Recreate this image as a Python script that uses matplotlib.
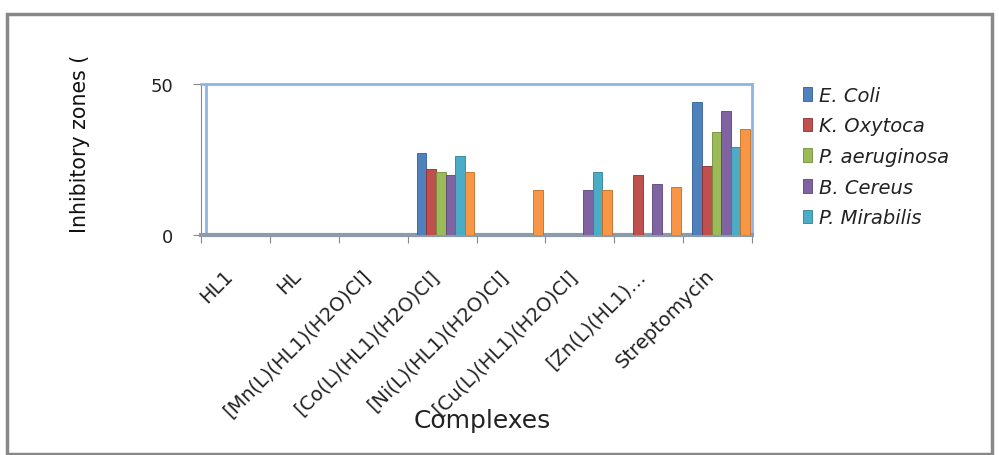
import matplotlib
matplotlib.use("Agg")
import matplotlib.pyplot as plt
import numpy as np
from matplotlib.patches import Rectangle
from matplotlib.transforms import ScaledTranslation

plt.rcParams['font.family'] = ['DejaVu Sans']

categories = ["HL1", "HL", "[Mn(L)(HL1)(H2O)Cl]", "[Co(L)(HL1)(H2O)Cl]",
              "[Ni(L)(HL1)(H2O)Cl]", "[Cu(L)(HL1)(H2O)Cl]", "[Zn(L)(HL1)…",
              "Streptomycin"]
series_names = ["E. Coli", "K. Oxytoca", "P. aeruginosa", "B. Cereus", "P. Mirabilis", "_series6"]
e_coli       = [0, 0, 0, 27, 0, 0, 0, 44]
k_oxytoca    = [0, 0, 0, 22, 0, 0, 20, 23]
p_aeruginosa = [0, 0, 0, 21, 0, 0, 0, 34]
b_cereus     = [0, 0, 0, 20, 0, 15, 17, 41]
p_mirabilis  = [0, 0, 0, 26, 0, 21, 0, 29]
series6      = [0, 0, 0, 21, 15, 15, 16, 35]
yticks = [0, 50]

colors = ["#4F81BD", "#C0504D", "#9BBB59", "#8064A2", "#4BACC6", "#F79646"]
edge = ["#2F5F95", "#8E2F2C", "#6F8C3A", "#5A4479", "#2F8099", "#C06C20"]

fig = plt.figure(figsize=(9.99, 4.56), dpi=100)
# outer frame
fig.patches.append(Rectangle((7/999, 1 - 455/456), (992 - 7)/999, (455 - 15)/456,
                             transform=fig.transFigure, fill=False,
                             edgecolor="#888888", linewidth=2.5))

ax = fig.add_axes([201/999, 1 - 236/456, 551/999, 151/456])
x = np.arange(len(categories))
data = [e_coli, k_oxytoca, p_aeruginosa, b_cereus, p_mirabilis, series6]
w = 0.138
for i, (vals, name) in enumerate(zip(data, series_names)):
    ax.bar(x + (i - 2.5) * w + 0.05, vals, width=w, color=colors[i],
           edgecolor=edge[i], linewidth=0.6, label=name, zorder=3)

ax.set_xlim(-0.5, len(categories) - 0.5)
ax.set_ylim(0, 50)
ax.set_yticks(yticks)
ax.set_yticklabels([str(t) for t in yticks], fontsize=13, color="#222222")
ax.tick_params(axis='y', length=6, color="#888888", pad=14)

ax.set_xticks(np.arange(len(categories) + 1) - 0.5, minor=False)
ax.set_xticklabels([])
ax.tick_params(axis='x', which='major', length=6, color="#888888")
ax.set_xticks(x, minor=True)
ax.set_xticklabels(categories, minor=True, rotation=45, ha='right', va='top',
                   rotation_mode='anchor', fontsize=14, color="#222222")
ax.tick_params(axis='x', which='minor', length=0, pad=22)
off = ScaledTranslation(-9/72, 0, fig.dpi_scale_trans)
for lab in ax.get_xticklabels(minor=True):
    lab.set_transform(lab.get_transform() + off)

for s in ['top', 'right']:
    ax.spines[s].set_color("#8EB4E3")
    ax.spines[s].set_linewidth(2)
ax.spines['left'].set_color("#888888")
ax.spines['bottom'].set_color("#8C9BAA")
ax.spines['bottom'].set_linewidth(3)
ax.axvline(-0.43, color="#8EB4E3", linewidth=2, zorder=2)

fig.text(80/999, 1 - 144/456, "Inhibitory zones (", rotation=90, ha='center', va='center',
         fontsize=14.8, color="#111111")
fig.text(482/999, 1 - 421/456, "Complexes", ha='center', va='center',
         fontsize=18, color="#222222")

handles, labels = ax.get_legend_handles_labels()
leg = fig.legend(handles[:5], labels[:5], loc='upper left',
                 bbox_to_anchor=(785/999, 1 - 69/456), frameon=False,
                 handlelength=0.5, handleheight=0.7, handletextpad=0.35,
                 labelspacing=0.6, prop={'style': 'italic', 'size': 14})
for t in leg.get_texts():
    t.set_color("#222222")

fig.savefig("out.png", dpi=100)
